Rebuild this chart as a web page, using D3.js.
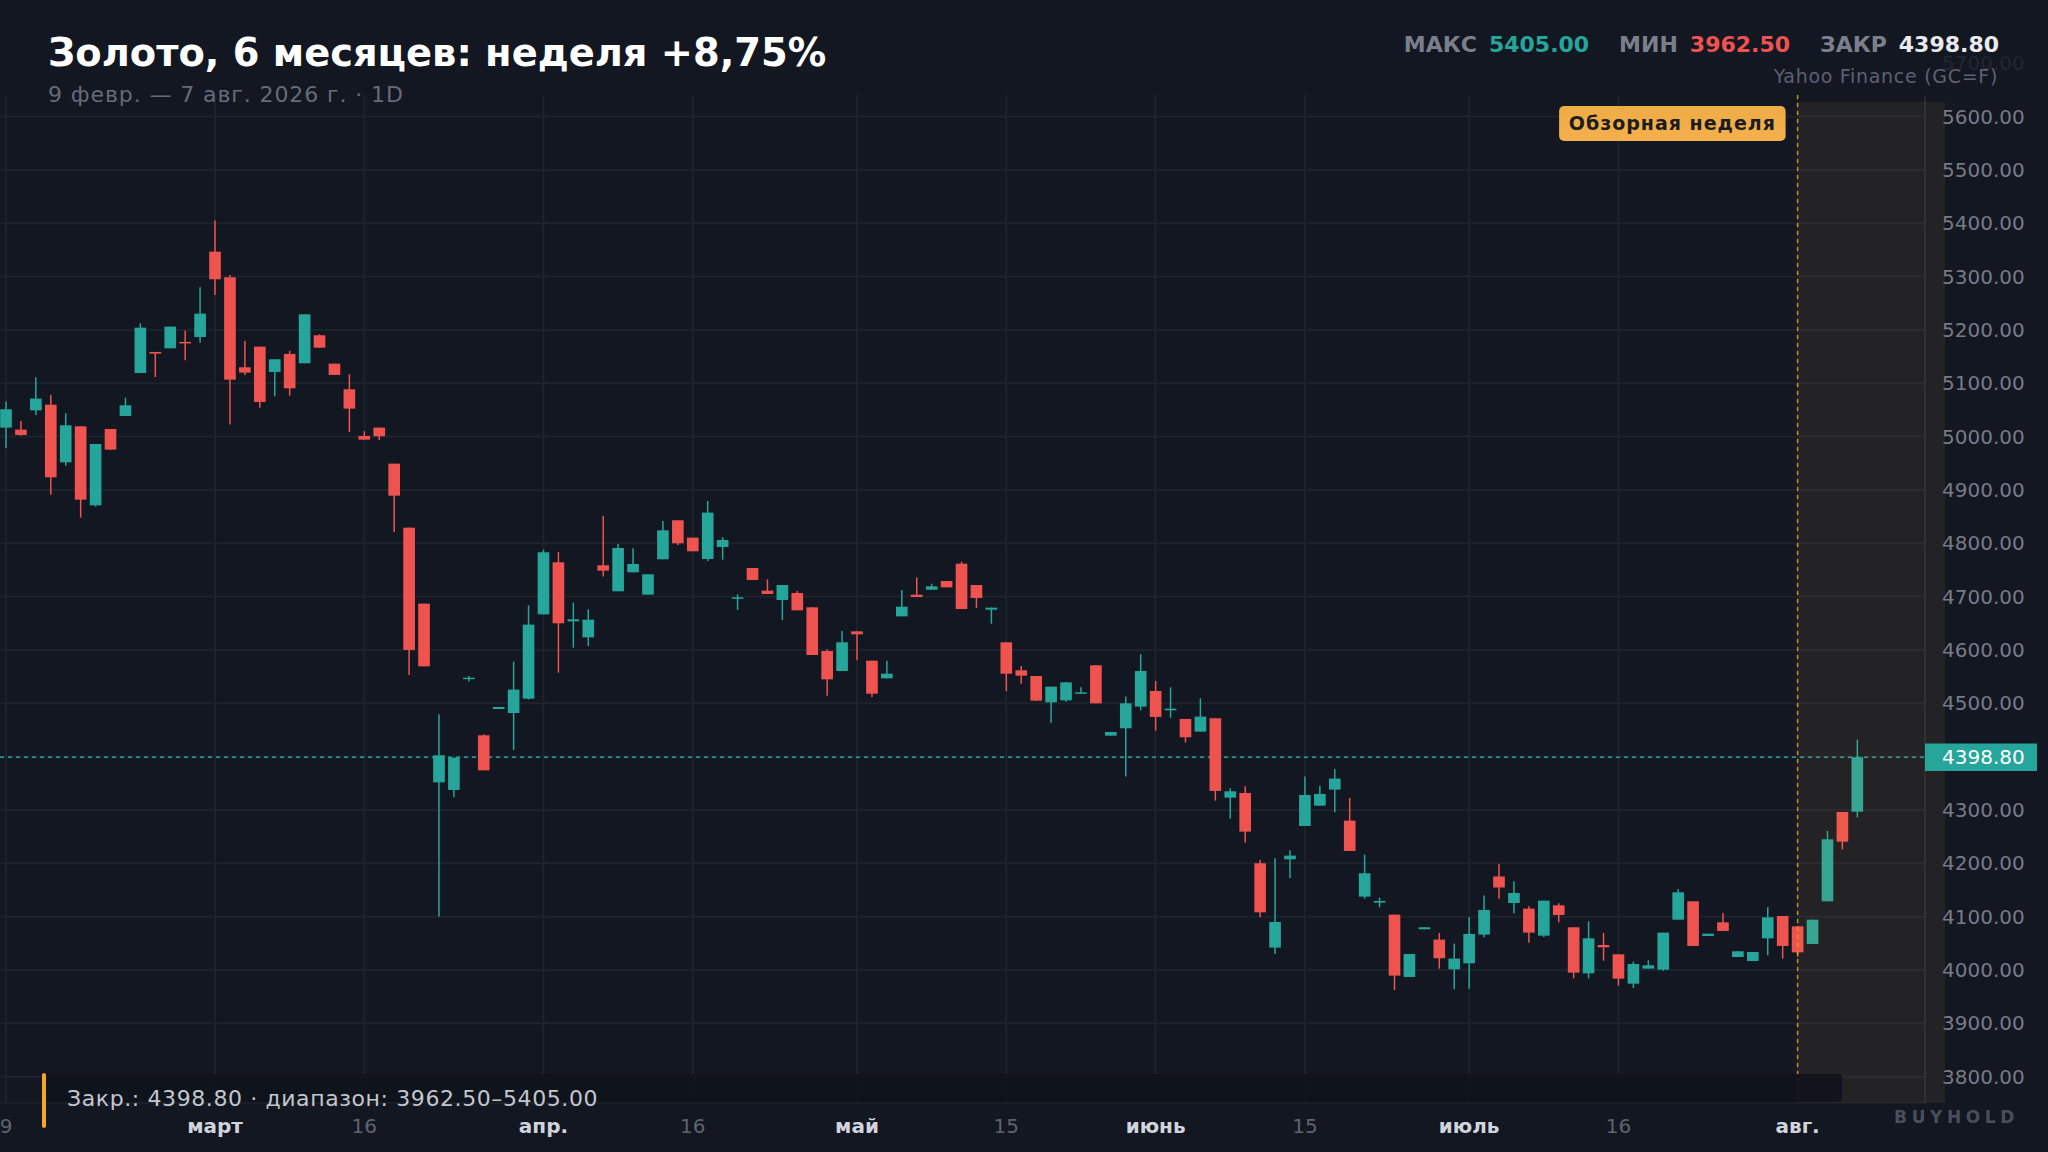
<!DOCTYPE html>
<html><head><meta charset="utf-8">
<script src="https://cdn.jsdelivr.net/npm/d3@7/dist/d3.min.js"></script>
<style>html,body{margin:0;padding:0;background:#131722;}svg{display:block;}</style>
</head><body>
<svg id="chart" width="2048" height="1152"></svg>
<script>
// ---------- DATA ----------
const dates = [
"02-09","02-10","02-11","02-12","02-13","02-17","02-18","02-19","02-20","02-23","02-24","02-25","02-26","02-27",
"03-02","03-03","03-04","03-05","03-06","03-09","03-10","03-11","03-12","03-13","03-16","03-17","03-18","03-19","03-20","03-23","03-24","03-25","03-26","03-27","03-30","03-31",
"04-01","04-02","04-06","04-07","04-08","04-09","04-10","04-13","04-14","04-15","04-16","04-17","04-20","04-21","04-22","04-23","04-24","04-27","04-28","04-29","04-30",
"05-01","05-04","05-05","05-06","05-07","05-08","05-11","05-12","05-13","05-14","05-15","05-18","05-19","05-20","05-21","05-22","05-26","05-27","05-28","05-29",
"06-01","06-02","06-03","06-04","06-05","06-08","06-09","06-10","06-11","06-12","06-15","06-16","06-17","06-18","06-22","06-23","06-24","06-25","06-26","06-29","06-30",
"07-01","07-02","07-06","07-07","07-08","07-09","07-10","07-13","07-14","07-15","07-16","07-17","07-20","07-21","07-22","07-23","07-24","07-27","07-28","07-29","07-30","07-31",
"08-03","08-04","08-05","08-06","08-07"];
const open = [
5016.8,5013.1,5049.3,5059.9,4951.8,5019.3,4871.2,5014.3,5038.7,5119.3,5158.7,5165.6,5177.5,5186.8,
5346.8,5298.7,5130.0,5168.7,5121.2,5155.0,5137.5,5190.0,5136.8,5088.7,5001.2,5016.8,4949.3,4829.3,4686.8,4351.8,4337.5,4546.8,4440.0,4489.3,4481.8,4508.7,
4666.8,4764.3,4653.7,4623.7,4758.7,4710.0,4745.6,4703.7,4770.0,4843.1,4810.6,4770.6,4793.1,4696.2,4753.7,4711.2,4693.7,4706.8,4679.9,4598.0,4560.5,
4634.9,4579.9,4546.8,4663.0,4703.6,4713.0,4729.3,4761.8,4721.8,4675.5,4614.3,4561.8,4551.2,4501.8,4505.5,4518.0,4571.2,4439.3,4453.1,4493.8,
4523.1,4486.9,4470.6,4446.9,4471.9,4323.1,4331.9,4200.0,4041.9,4207.5,4270.0,4308.1,4338.1,4280.0,4137.5,4126.3,4103.8,3986.9,4076.3,4056.9,4001.3,
4012.5,4066.3,4175.3,4125.6,4115.0,4064.3,4121.2,4080.0,3993.7,4046.8,4029.3,3974.3,4002.5,4000.6,4094.3,4128.7,4063.7,4089.3,4024.3,4016.8,4059.3,4101.2,
4081.8,4048.7,4128.7,4296.2,4296.8];
const high = [
5065.6,5029.3,5111.2,5078.1,5043.7,5019.3,4986.2,5014.3,5073.1,5212.5,5158.7,5206.2,5198.7,5280.0,
5405.0,5303.1,5179.3,5168.7,5145.0,5160.6,5229.3,5192.0,5136.8,5116.8,5010.0,5016.8,4949.3,4829.3,4686.8,4479.3,4398.1,4551.2,4442.0,4493.1,4578.1,4683.7,
4788.1,4783.7,4688.7,4676.2,4851.2,4798.7,4790.6,4741.8,4841.8,4843.1,4810.6,4879.3,4811.2,4704.3,4753.7,4732.4,4721.8,4710.5,4679.9,4601.2,4635.5,
4635.0,4579.9,4579.9,4712.4,4736.1,4724.3,4729.3,4765.5,4721.8,4679.3,4614.3,4569.9,4551.2,4531.2,4539.3,4529.9,4571.2,4446.2,4512.5,4591.9,
4541.9,4530.0,4470.6,4509.4,4471.9,4340.6,4344.4,4206.3,4209.4,4224.4,4362.5,4345.6,4376.9,4322.5,4216.3,4135.6,4103.8,4030.0,4080.0,4069.4,4049.4,
4099.4,4139.4,4199.0,4166.2,4119.3,4130.0,4125.0,4080.0,4091.2,4069.3,4029.3,4015.6,4018.1,4070.0,4151.8,4128.7,4068.1,4106.8,4035.0,4033.7,4117.5,4101.2,
4081.8,4094.3,4260.6,4296.2,4431.8];
const low = [
4978.1,5001.8,5040.6,4891.2,4945.6,4848.1,4868.7,4975.6,5038.7,5119.3,5111.8,5165.6,5143.1,5176.2,
5265.6,5022.5,5115.6,5054.3,5075.6,5076.8,5137.5,5166.8,5115.6,5008.7,4994.3,4993.7,4821.0,4553.1,4569.3,4100.0,4323.7,4540.7,4374.3,4489.3,4412.5,4507.0,
4666.8,4557.5,4604.3,4607.5,4737.5,4710.0,4745.6,4703.7,4770.0,4796.8,4785.0,4766.8,4769.3,4675.0,4731.2,4704.9,4656.2,4674.3,4590.5,4514.3,4560.5,
4580.5,4511.8,4546.8,4663.0,4699.3,4713.0,4717.4,4676.8,4678.6,4649.3,4523.0,4536.8,4504.9,4463.7,4503.0,4518.0,4499.9,4439.3,4362.5,4486.9,
4448.8,4473.1,4426.3,4446.9,4317.5,4283.8,4238.8,4098.8,4030.0,4172.5,4270.0,4308.1,4295.6,4223.1,4133.8,4117.5,3962.5,3986.9,4076.3,4002.5,3964.0,
3965.0,4061.3,4133.5,4106.2,4051.2,4061.8,4089.3,3984.3,3984.3,4017.5,3970.6,3966.0,4002.5,3998.7,4094.3,4045.0,4063.7,4073.1,4024.3,4016.8,4027.5,4021.2,
4025.0,4048.7,4128.7,4226.2,4286.2];
const close = [
5051.2,5003.1,5071.2,4923.7,5021.2,4881.8,4986.2,4975.6,5058.7,5204.3,5155.6,5206.2,5175.6,5230.6,
5295.0,5106.8,5120.0,5065.0,5145.0,5090.6,5229.3,5166.8,5115.6,5052.5,4994.3,5000.6,4889.3,4600.0,4569.3,4402.5,4398.1,4548.0,4374.3,4493.1,4525.6,4647.5,
4783.1,4650.0,4657.5,4656.8,4748.7,4791.2,4761.2,4741.8,4824.3,4800.0,4785.0,4857.5,4806.2,4698.7,4731.2,4704.9,4721.8,4674.3,4590.5,4544.9,4614.3,
4629.3,4518.0,4555.5,4681.1,4699.3,4719.3,4717.4,4676.8,4697.4,4679.3,4555.5,4551.8,4504.9,4531.2,4539.3,4520.5,4499.9,4446.2,4500.0,4560.6,
4474.4,4490.0,4436.3,4475.0,4335.6,4335.0,4259.4,4108.1,4090.0,4214.4,4328.1,4330.0,4358.8,4223.1,4181.3,4129.4,3989.4,4030.0,4080.0,4021.9,4021.3,
4067.5,4112.5,4154.6,4144.3,4070.0,4130.0,4103.1,3995.0,4059.3,4042.5,3983.7,4011.2,4008.7,4070.0,4145.6,4045.0,4068.1,4073.1,4035.0,4033.7,4098.7,4045.0,
4033.1,4094.3,4245.0,4240.6,4398.8];
const reviewWeek = ["08-03","08-04","08-05","08-06","08-07"];
const xTickDates  = ["02-09","03-02","03-16","04-01","04-16","05-01","05-15","06-01","06-15","07-01","07-16","08-03"];
const xTickLabels = ["9","март","16","апр.","16","май","15","июнь","15","июль","16","авг."];
const xTickIsMonth = [false,true,false,true,false,true,false,true,false,true,false,true];
const yTicks = [3800,3900,4000,4100,4200,4300,4400,4500,4600,4700,4800,4900,5000,5100,5200,5300,5400,5500,5600,5700];
const titleText = "Золото, 6 месяцев: неделя +8,75%";
const subtitleText = "9 февр. — 7 авг. 2026 г. · 1D";
const sourceText = "Yahoo Finance (GC=F)";
const badgeText = "Обзорная неделя";
const statLabels = ["МАКС","МИН","ЗАКР"];
const statValues = [5405.00, 3962.50, 4398.80];

// ---------- SETUP ----------
const svg = d3.select("#chart");
const W = 2048, H = 1152;
const FONT = "'DejaVu Sans', sans-serif";
const C = {bg:"#131722", grid:"#1e222d", up:"#26a69a", down:"#ef5350", axis:"#787b86", orange:"#f5a623"};
const plotTop = 95, plotBottom = 1103, plotRight = 1925;

const data = dates.map((d,i)=>({d, o:open[i], h:high[i], l:low[i], c:close[i]}));
const x = d3.scalePoint().domain(dates).range([-1.465, 1864.8]).padding(0.5);
const y = d3.scaleLinear().domain([3750, 5750]).range([1103.3, 36.6]);
const step = x.step();
const bodyW = step * 0.78;

svg.append("rect").attr("width",W).attr("height",H).attr("fill",C.bg);

// grid
const grid = svg.append("g");
grid.selectAll("line.h").data(yTicks.filter(t=>y(t)>=plotTop && y(t)<=plotBottom)).join("line")
  .attr("x1",0).attr("x2",plotRight).attr("y1",d=>y(d)).attr("y2",d=>y(d))
  .attr("stroke",C.grid).attr("stroke-width",2);
grid.selectAll("line.v").data(xTickDates).join("line")
  .attr("x1",d=>x(d)).attr("x2",d=>x(d)).attr("y1",plotTop).attr("y2",plotBottom)
  .attr("stroke",C.grid).attr("stroke-width",2);
svg.append("line").attr("x1",0).attr("x2",plotRight).attr("y1",plotBottom).attr("y2",plotBottom)
  .attr("stroke",C.grid).attr("stroke-width",1.5);
svg.append("line").attr("x1",plotRight).attr("x2",plotRight).attr("y1",plotTop).attr("y2",plotBottom)
  .attr("stroke","#2a2e39").attr("stroke-width",1.5);

// close dashed line
const lastClose = close[close.length-1];
svg.append("line").attr("x1",0).attr("x2",plotRight).attr("y1",y(lastClose)).attr("y2",y(lastClose))
  .attr("stroke",C.up).attr("stroke-width",1.5).attr("stroke-dasharray","4,4");

// candles
const cg = svg.append("g");
const candle = cg.selectAll("g").data(data).join("g");
candle.append("line")
  .attr("x1",d=>x(d.d)).attr("x2",d=>x(d.d))
  .attr("y1",d=>y(d.h)).attr("y2",d=>y(d.l))
  .attr("stroke",d=>d.c>=d.o?C.up:C.down).attr("stroke-width",1.5);
candle.append("rect")
  .attr("x",d=>x(d.d)-bodyW/2).attr("width",bodyW)
  .attr("y",d=>y(Math.max(d.o,d.c)))
  .attr("height",d=>Math.max(1.5, Math.abs(y(d.o)-y(d.c))))
  .attr("fill",d=>d.c>=d.o?C.up:C.down);

// review week shading
const rx0 = x(reviewWeek[0]);
svg.append("rect").attr("x",rx0).attr("y",101.7).attr("width",1945-rx0).attr("height",plotBottom-101.7)
  .attr("fill","#e8a040").attr("opacity",0.08);
svg.append("line").attr("x1",rx0).attr("x2",rx0).attr("y1",plotTop).attr("y2",plotBottom)
  .attr("stroke",C.orange).attr("stroke-width",1.5).attr("stroke-dasharray","4,4").attr("opacity",0.8);

// badge
const defs = svg.append("defs");
const lg = defs.append("linearGradient").attr("id","badgeGrad").attr("x1",0).attr("x2",0).attr("y1",0).attr("y2",1);
lg.append("stop").attr("offset","0%").attr("stop-color","#efab45");
lg.append("stop").attr("offset","100%").attr("stop-color","#f3b04c");
const badgeG = svg.append("g");
badgeG.append("rect").attr("x",rx0-12-226.5).attr("y",106).attr("width",226.5).attr("height",35).attr("rx",5)
  .attr("fill","url(#badgeGrad)");
badgeG.append("text").attr("x",rx0-12-226.5/2).attr("y",130).attr("text-anchor","middle")
  .attr("font-family",FONT).attr("font-weight","bold").attr("font-size",19).attr("letter-spacing",1)
  .attr("fill","#1c1c20").text(badgeText);

// y axis labels
svg.append("g").selectAll("text").data(yTicks).join("text")
  .attr("x",1942).attr("y",d=>y(d)).attr("dy","0.36em")
  .attr("font-family",FONT).attr("font-size",20)
  .attr("fill",C.axis).attr("opacity",d=>y(d)<plotTop?0.15:1)
  .text(d=>d3.format(".2f")(d));

// price tag
svg.append("rect").attr("x",plotRight).attr("y",y(lastClose)-13.75).attr("width",112).attr("height",27.5)
  .attr("fill",C.up);
svg.append("text").attr("x",1942).attr("y",y(lastClose)).attr("dy","0.36em")
  .attr("font-family",FONT).attr("font-size",20).attr("fill","#ffffff").text(d3.format(".2f")(lastClose));

// footer panel
svg.append("rect").attr("x",42).attr("y",1074).attr("width",1800).attr("height",28).attr("rx",4)
  .attr("fill","#10131b").attr("opacity",0.9);
svg.append("rect").attr("x",42).attr("y",1073).attr("width",4).attr("height",55).attr("rx",2).attr("fill",C.orange);
svg.append("text").attr("x",67).attr("y",1106)
  .attr("font-family",FONT).attr("font-size",22).attr("letter-spacing",0.6).attr("fill","#c3c6ce")
  .text(`Закр.: ${d3.format(".2f")(lastClose)} · диапазон: ${d3.format(".2f")(d3.min(low))}–${d3.format(".2f")(d3.max(high))}`);

// x axis labels
svg.append("g").selectAll("text").data(xTickDates).join("text")
  .attr("x",d=>x(d)).attr("y",1133).attr("text-anchor","middle")
  .attr("font-family",FONT).attr("font-size",20)
  .attr("font-weight",(d,i)=>xTickIsMonth[i]?"bold":"normal")
  .attr("fill",(d,i)=>xTickIsMonth[i]?"#d1d4dc":"#5f6370")
  .text((d,i)=>xTickLabels[i]);

// watermark
svg.append("text").attr("x",2019).attr("y",1123).attr("text-anchor","end")
  .attr("font-family",FONT).attr("font-weight","bold").attr("font-size",17).attr("letter-spacing",4.6)
  .attr("fill","#4a4e5a").text("BUYHOLD");

// title
svg.append("text").attr("x",48).attr("y",66).attr("font-family",FONT).attr("font-weight","bold")
  .attr("font-size",38.4).attr("fill","#ffffff").text(titleText);
svg.append("text").attr("x",48).attr("y",102).attr("font-family",FONT)
  .attr("font-size",22).attr("letter-spacing",0.9).attr("fill","#676b77").text(subtitleText);

// stats (right aligned)
const statColors = [C.up, C.down, "#e8eaef"];
let cx = 1999;
const sg = svg.append("g");
for (let i = statLabels.length-1; i >= 0; i--) {
  const v = sg.append("text").attr("x",cx).attr("y",52).attr("text-anchor","end")
    .attr("font-family",FONT).attr("font-weight","bold").attr("font-size",22)
    .attr("fill",statColors[i]).text(d3.format(".2f")(statValues[i]));
  cx -= v.node().getComputedTextLength() + 12;
  const l = sg.append("text").attr("x",cx).attr("y",52).attr("text-anchor","end")
    .attr("font-family",FONT).attr("font-weight","bold").attr("font-size",22)
    .attr("fill","#7b7f8b").text(statLabels[i]);
  cx -= l.node().getComputedTextLength() + 30;
}
svg.append("text").attr("x",1998).attr("y",83).attr("text-anchor","end")
  .attr("font-family",FONT).attr("font-size",19).attr("letter-spacing",0.7).attr("fill","#5d6170").text(sourceText);
</script>
</body></html>
